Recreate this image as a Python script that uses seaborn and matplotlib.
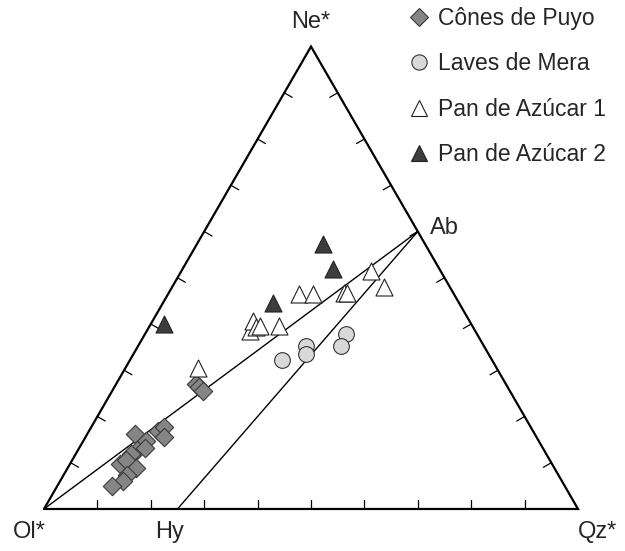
import numpy as np
import pandas as pd
import matplotlib
matplotlib.use("Agg")
import matplotlib.pyplot as plt
from matplotlib.lines import Line2D
import seaborn as sns

sns.set_style("white")
plt.rcParams["font.family"] = ["Liberation Sans", "DejaVu Sans"]

# Ternary compositions in percent (Ne*, Ol*, Qz*)
puyo_ne = [16.3, 14.8, 16.9, 17.8, 15.5, 12.7, 13.1, 11.9, 9.8, 10.6, 8.9, 7.4, 6.0, 5.0, 27.1, 26.4, 25.6]
puyo_qz = [8.8, 11.7, 12.9, 13.5, 14.8, 11.0, 12.3, 10.3, 9.3, 10.1, 12.8, 11.9, 11.7, 10.2, 14.9, 15.9, 17.0]
puyo_ol = [74.9, 73.5, 70.2, 68.7, 69.7, 76.3, 74.6, 77.8, 80.9, 79.3, 78.3, 80.7, 82.3, 84.8, 58.0, 57.7, 57.4]

mera_ne = [32.2, 35.2, 33.5, 37.8, 35.2]
mera_qz = [28.4, 31.5, 32.3, 37.6, 38.1]
mera_ol = [39.4, 33.3, 34.2, 24.6, 26.7]

pda1_ne = [30.5, 38.5, 40.7, 39.4, 39.6, 39.6, 46.4, 46.4, 46.8, 46.6, 51.5, 48.0]
pda1_qz = [13.6, 19.3, 18.8, 20.0, 20.7, 24.3, 24.6, 27.2, 32.7, 33.4, 35.4, 39.6]
pda1_ol = [55.9, 42.2, 40.5, 40.6, 39.7, 36.1, 29.0, 26.4, 20.5, 20.0, 13.1, 12.4]

pda2_ne = [39.9, 57.4, 51.9, 44.6]
pda2_qz = [2.5, 23.6, 28.2, 20.6]
pda2_ol = [57.6, 19.0, 19.9, 34.8]

group_names = ["Cônes de Puyo", "Laves de Mera", "Pan de Azúcar 1", "Pan de Azúcar 2"]
vertex_labels = ["Ne*", "Ol*", "Qz*"]
# reference phases (Ne, Ol, Qz) in percent
ab_comp = [60.0, 0.0, 40.0]
hy_comp = [0.0, 75.0, 25.0]

H = np.sqrt(3) / 2


def proj(ne, ol, qz):
    ne = np.asarray(ne, float)
    ol = np.asarray(ol, float)
    qz = np.asarray(qz, float)
    tot = ne + ol + qz
    return (qz + ne / 2) / tot, ne / tot * H


frames = []
for name, ne, ol, qz in [
    (group_names[0], puyo_ne, puyo_ol, puyo_qz),
    (group_names[1], mera_ne, mera_ol, mera_qz),
    (group_names[2], pda1_ne, pda1_ol, pda1_qz),
    (group_names[3], pda2_ne, pda2_ol, pda2_qz),
]:
    x, y = proj(ne, ol, qz)
    frames.append(pd.DataFrame({"x": x, "y": y, "group": name}))
df = pd.concat(frames, ignore_index=True)

styles = {
    "Cônes de Puyo": dict(marker="D", s=88, color="#858585", edgecolor="#3a3a3a", lw=0.8, lms=9.0),
    "Laves de Mera": dict(marker="o", s=128, color="#d9d9d9", edgecolor="#333333", lw=0.8, lms=11.0),
    "Pan de Azúcar 1": dict(marker="^", s=150, color="white", edgecolor="#222222", lw=0.8, lms=12.2),
    "Pan de Azúcar 2": dict(marker="^", s=150, color="#3d3d3d", edgecolor="#222222", lw=0.8, lms=12.2),
}

fig = plt.figure(figsize=(6.25, 5.51), dpi=100)
ax = fig.add_axes([0, 0, 1, 1])

# triangle frame
tri_x = [0, 1, 0.5, 0]
tri_y = [0, 0, H, 0]
ax.plot(tri_x, tri_y, color="black", lw=1.6, solid_joinstyle="miter", zorder=2)

# ticks every 10 %
tl = 0.017
for i in range(1, 10):
    f = i / 10
    ax.plot([f, f], [0, tl], color="black", lw=0.9, zorder=2)
    px, py = f * 0.5, f * H
    ax.plot([px, px + tl * H], [py, py - tl * 0.5], color="black", lw=0.9, zorder=2)
    px, py = 1 - f * 0.5, f * H
    ax.plot([px, px - tl * H], [py, py - tl * 0.5], color="black", lw=0.9, zorder=2)

# tie lines Ol*-Ab and Hy-Ab
abx, aby = proj([ab_comp[0]], [ab_comp[1]], [ab_comp[2]])
hyx, hyy = proj([hy_comp[0]], [hy_comp[1]], [hy_comp[2]])
ax.plot([0, abx[0]], [0, aby[0]], color="black", lw=1.0, zorder=2)
ax.plot([hyx[0], abx[0]], [hyy[0], aby[0]], color="black", lw=1.0, zorder=2)

for name in group_names:
    st = styles[name]
    sns.scatterplot(data=df[df["group"] == name], x="x", y="y", marker=st["marker"],
                    s=st["s"], color=st["color"], edgecolor=st["edgecolor"],
                    linewidth=st["lw"], ax=ax, legend=False, zorder=3)

fs = 17
ax.text(0.5, 0.912, vertex_labels[0], ha="center", va="center", fontsize=fs)
ax.text(-0.027, -0.043, vertex_labels[1], ha="center", va="center", fontsize=fs)
ax.text(1.036, -0.043, vertex_labels[2], ha="center", va="center", fontsize=fs)
ax.text(hyx[0] - 0.014, -0.043, "Hy", ha="center", va="center", fontsize=fs)
ax.text(abx[0] + 0.023, aby[0] + 0.006, "Ab", ha="left", va="center", fontsize=fs)

handles = []
for name in group_names:
    st = styles[name]
    handles.append(Line2D([], [], ls="none", marker=st["marker"], markersize=st["lms"],
                          markerfacecolor=st["color"], markeredgecolor=st["edgecolor"],
                          markeredgewidth=st["lw"], label=name))
fig.legend(handles=handles, loc="upper left", bbox_to_anchor=(0.638, 1.004),
           frameon=False, fontsize=fs - 0.5, labelspacing=0.98, handletextpad=0.3,
           handlelength=1.0, borderaxespad=0.0)

ax.set_xlim(-0.0824, 1.0880)
ax.set_ylim(-0.0787, 0.9532)
ax.set_axis_off()

fig.savefig("out.png", dpi=100)
